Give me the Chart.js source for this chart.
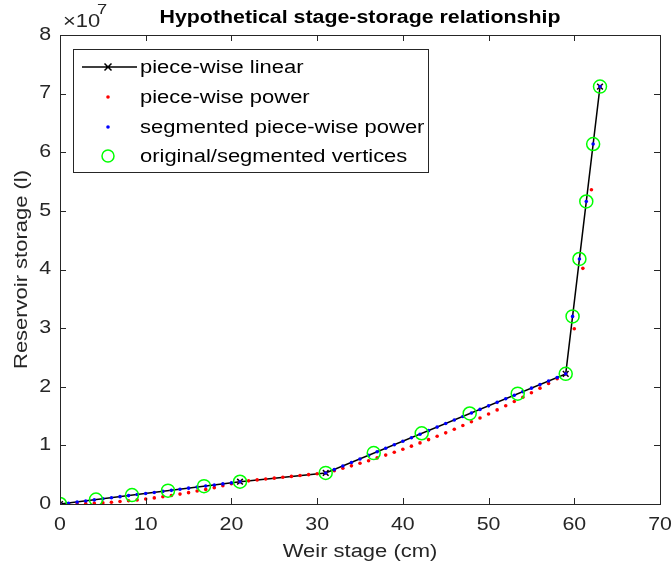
<!DOCTYPE html>
<html>
<head>
<meta charset="utf-8">
<script src="https://cdn.jsdelivr.net/npm/chart.js@4.4.1/dist/chart.umd.min.js"></script>
<style>
  html, body { margin: 0; padding: 0; background: #fff; }
  #wrap { width: 672px; height: 575px; }
</style>
</head>
<body>
<div id="wrap"><canvas id="stageChart"></canvas></div>
<script>
// storage values in millions of litres
const linearStage = [0, 21, 31, 59, 63];
const linearStorage = [0, 3.8, 5.3, 22.2, 71.2];

const powerStage = [0, 1, 2, 3, 4, 5, 6, 7, 8, 9, 10, 11, 12, 13, 14, 15, 16, 17, 18, 19, 20, 21,
    22, 23, 24, 25, 26, 27, 28, 29, 30, 31, 32, 33, 34, 35, 36, 37, 38, 39, 40, 41, 42, 43, 44, 45,
    46, 47, 48, 49, 50, 51, 52, 53, 54, 55, 56, 57, 58, 59, 60, 61, 62, 63];
const powerStorage = [0, 0.01, 0.03, 0.08, 0.14, 0.22, 0.31, 0.42, 0.55, 0.70, 0.86, 1.04, 1.24, 1.46,
    1.69, 1.94, 2.21, 2.49, 2.79, 3.11, 3.45, 3.80,
    3.95, 4.11, 4.26, 4.41, 4.56, 4.71, 4.86, 5.01, 5.15, 5.30,
    5.69, 6.09, 6.51, 6.94, 7.39, 7.86, 8.34, 8.83, 9.35, 9.87, 10.42, 10.98, 11.55, 12.14, 12.75,
    13.38, 14.02, 14.68, 15.35, 16.05, 16.75, 17.48, 18.22, 18.98, 19.76, 20.55, 21.36, 22.20,
    29.9, 40.2, 53.6, 71.2];

const segStage = [0, 1, 2, 3, 4, 5, 6, 7, 8, 9, 10, 11, 12, 13, 14, 15, 16, 17, 18, 19, 20, 21,
    31, 32, 33, 34, 35, 36, 37, 38, 39, 40, 41, 42, 43, 44, 45, 46, 47, 48, 49, 50, 51, 52, 53,
    54, 55, 56, 57, 58, 59, 59.8, 60.6, 61.4, 62.2, 63];
const segStorage = [0, 0.14, 0.32, 0.51, 0.70, 0.88, 1.06, 1.25, 1.43, 1.61, 1.79, 1.97, 2.15, 2.33,
    2.52, 2.70, 2.88, 3.06, 3.24, 3.43, 3.61, 3.80,
    5.30, 5.87, 6.47, 7.07, 7.68, 8.29, 8.90, 9.50, 10.10, 10.70, 11.31, 11.91, 12.51, 13.12, 13.72,
    14.33, 14.93, 15.53, 16.14, 16.74, 17.34, 17.95, 18.55, 19.16, 19.76, 20.37, 20.97, 21.58, 22.20,
    32.0, 41.8, 51.6, 61.4, 71.2];

const vertexStage = [0, 4.2, 8.4, 12.6, 16.8, 21, 31, 36.6, 42.2, 47.8, 53.4, 59, 59.8, 60.6, 61.4, 62.2, 63];
const vertexStorage = [0, 0.76, 1.52, 2.28, 3.04, 3.80, 5.30, 8.68, 12.06, 15.44, 18.82, 22.20,
    32.0, 41.8, 51.6, 61.4, 71.2];

const xTicks = [0, 10, 20, 30, 40, 50, 60, 70];
const yTicks = [0, 1, 2, 3, 4, 5, 6, 7, 8];

const legendLabels = ['piece-wise linear', 'piece-wise power', 'segmented piece-wise power', 'original/segmented vertices'];

function toPoints(xs, ys) {
    return xs.map((x, i) => ({ x: x, y: ys[i] / 10 }));
}

const axisColor = '#262626';
const fontFamily = '"Liberation Sans", Arial, sans-serif';
const stretch = 1.22; // the original text is set a bit wider than Arial

// draw wide text: x,y is the anchor, align left/center/right, rotation in radians
function wideText(ctx, text, x, y, size, opts) {
    opts = opts || {};
    ctx.save();
    ctx.font = (opts.bold ? 'bold ' : '') + size + 'px ' + fontFamily;
    ctx.fillStyle = opts.color || axisColor;
    ctx.textBaseline = opts.baseline || 'middle';
    ctx.textAlign = opts.align || 'left';
    ctx.translate(x, y);
    if (opts.rotate) ctx.rotate(opts.rotate);
    ctx.scale(stretch, 1);
    ctx.fillText(text, 0, 0);
    ctx.restore();
}

const matlabFrame = {
    id: 'matlabFrame',
    afterDatasetsDraw(chart) {
        const { ctx, chartArea: a, scales } = chart;
        ctx.save();
        ctx.strokeStyle = axisColor;
        ctx.lineWidth = 1;
        ctx.strokeRect(a.left + 0.5, a.top + 0.5, a.right - a.left, a.bottom - a.top);
        const len = 6;
        ctx.beginPath();
        xTicks.forEach(v => {
            const px = Math.round(scales.x.getPixelForValue(v)) + 0.5;
            ctx.moveTo(px, a.bottom); ctx.lineTo(px, a.bottom - len);
            ctx.moveTo(px, a.top); ctx.lineTo(px, a.top + len);
        });
        yTicks.forEach(v => {
            const py = Math.round(scales.y.getPixelForValue(v)) + 0.5;
            ctx.moveTo(a.left, py); ctx.lineTo(a.left + len, py);
            ctx.moveTo(a.right, py); ctx.lineTo(a.right - len, py);
        });
        ctx.stroke();
        ctx.restore();

        // tick labels
        xTicks.forEach(v => {
            wideText(ctx, String(v), scales.x.getPixelForValue(v), a.bottom + 21, 17.5, { align: 'center' });
        });
        yTicks.forEach(v => {
            wideText(ctx, String(v), a.left - 9, scales.y.getPixelForValue(v), 17.5, { align: 'right' });
        });

        // axis titles
        wideText(ctx, 'Weir stage (cm)', (a.left + a.right) / 2, 552, 18, { align: 'center' });
        wideText(ctx, 'Reservoir storage (l)', 22, (a.top + a.bottom) / 2, 18, { align: 'center', rotate: -Math.PI / 2 });

        // exponent label
        wideText(ctx, '\u00d710', a.left + 3, 27, 18, { baseline: 'alphabetic' });
        wideText(ctx, '7', a.left + 37, 14, 15, { baseline: 'alphabetic' });

        // title
        wideText(ctx, 'Hypothetical stage-storage relationship', 360, 23, 17.5, { bold: true, color: '#000', align: 'center', baseline: 'alphabetic' });

        // legend
        ctx.save();
        const bx = 73, by = 49, bw = 355, bh = 123;
        ctx.fillStyle = '#fff';
        ctx.fillRect(bx, by, bw, bh);
        ctx.strokeStyle = axisColor;
        ctx.lineWidth = 1;
        ctx.strokeRect(bx + 0.5, by + 0.5, bw, bh);
        const rows = [67, 97, 127, 156];
        const cx = 108;
        rows.forEach((ry, i) => {
            wideText(ctx, legendLabels[i], 140, ry + 1, 18, { color: '#000' });
        });
        ctx.strokeStyle = '#000';
        ctx.lineWidth = 1.5;
        ctx.beginPath();
        ctx.moveTo(82, rows[0]); ctx.lineTo(137, rows[0]);
        ctx.moveTo(cx - 3.5, rows[0] - 3.5); ctx.lineTo(cx + 3.5, rows[0] + 3.5);
        ctx.moveTo(cx - 3.5, rows[0] + 3.5); ctx.lineTo(cx + 3.5, rows[0] - 3.5);
        ctx.stroke();
        ctx.fillStyle = '#ff0000';
        ctx.beginPath(); ctx.arc(cx, rows[1], 1.8, 0, Math.PI * 2); ctx.fill();
        ctx.fillStyle = '#0000ff';
        ctx.beginPath(); ctx.arc(cx, rows[2], 1.8, 0, Math.PI * 2); ctx.fill();
        ctx.strokeStyle = '#00ff00';
        ctx.lineWidth = 1.5;
        ctx.beginPath(); ctx.arc(cx, rows[3], 6, 0, Math.PI * 2); ctx.stroke();
        ctx.restore();
    }
};

const ctx = document.getElementById('stageChart').getContext('2d');
new Chart(ctx, {
    type: 'scatter',
    data: {
        datasets: [
            {
                label: legendLabels[3],
                data: toPoints(vertexStage, vertexStorage),
                showLine: false,
                pointStyle: 'circle',
                pointRadius: 6.5,
                pointBorderWidth: 1.5,
                pointBorderColor: '#00ff00',
                pointBackgroundColor: 'rgba(0,0,0,0)',
                order: 0
            },
            {
                label: legendLabels[2],
                data: toPoints(segStage, segStorage),
                showLine: false,
                pointRadius: 1.8,
                pointBorderWidth: 0,
                pointBackgroundColor: '#0000ff',
                order: 1
            },
            {
                label: legendLabels[1],
                data: toPoints(powerStage, powerStorage),
                showLine: false,
                pointRadius: 1.8,
                pointBorderWidth: 0,
                pointBackgroundColor: '#ff0000',
                order: 2
            },
            {
                label: legendLabels[0],
                data: toPoints(linearStage, linearStorage),
                showLine: true,
                borderColor: '#000',
                borderWidth: 1.5,
                pointStyle: 'crossRot',
                pointRadius: 4,
                pointBorderWidth: 1.5,
                pointBorderColor: '#000',
                order: 3
            }
        ]
    },
    options: {
        responsive: true,
        maintainAspectRatio: false,
        animation: false,
        layout: { padding: { top: 35, right: 12, left: 0, bottom: 0 } },
        plugins: {
            legend: { display: false },
            title: { display: false },
            tooltip: { enabled: false }
        },
        scales: {
            x: {
                type: 'linear',
                min: 0,
                max: 70,
                afterBuildTicks: axis => { axis.ticks = xTicks.map(v => ({ value: v })); },
                afterFit: axis => { axis.height = 71; },
                grid: { display: false },
                border: { display: false },
                ticks: { display: false }
            },
            y: {
                type: 'linear',
                min: 0,
                max: 8,
                afterBuildTicks: axis => { axis.ticks = yTicks.map(v => ({ value: v })); },
                afterFit: axis => { axis.width = 60; },
                grid: { display: false },
                border: { display: false },
                ticks: { display: false }
            }
        }
    },
    plugins: [matlabFrame]
});
</script>
</body>
</html>
